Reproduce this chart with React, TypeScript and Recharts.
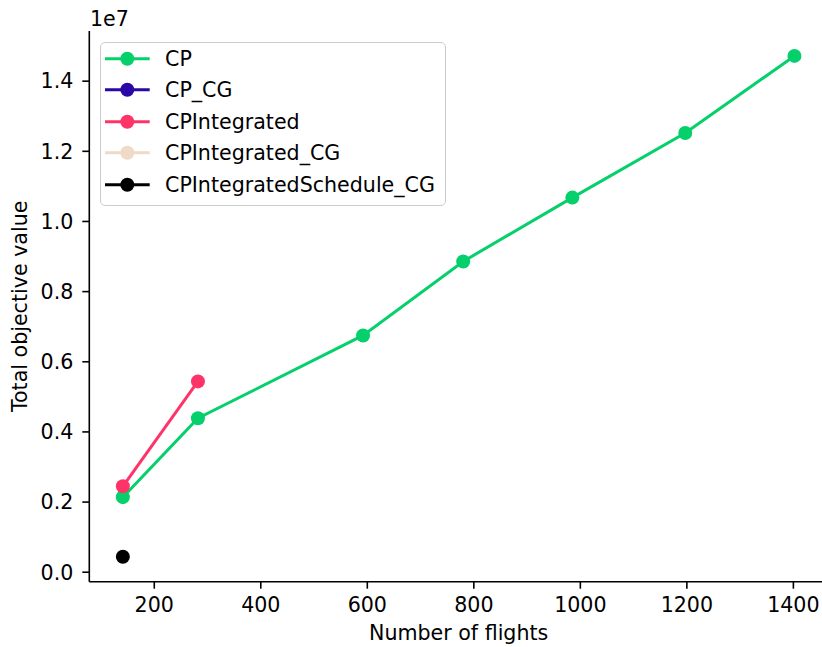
import React from 'react';
import { LineChart, Line, XAxis, YAxis, Legend } from 'recharts';

// number of flights per instance and total objective value per solver
const flightsCP = [141, 282, 592, 780, 985, 1197, 1402];
const objectiveCP = [2.14e6, 4.39e6, 6.75e6, 8.86e6, 10.68e6, 12.52e6, 14.72e6];

const flightsCPCG: number[] = [];
const objectiveCPCG: number[] = [];

const flightsCPIntegrated = [141, 282];
const objectiveCPIntegrated = [2.45e6, 5.44e6];

const flightsCPIntegratedCG: number[] = [];
const objectiveCPIntegratedCG: number[] = [];

const flightsSchedule = [141];
const objectiveSchedule = [0.44e6];

const xTicks = [200, 400, 600, 800, 1000, 1200, 1400];
const yTicks = [0, 2e6, 4e6, 6e6, 8e6, 10e6, 12e6, 14e6];

const zip = (xs: number[], ys: number[]) => xs.map((x, i) => ({ x, y: ys[i] }));

const series = [
  { name: 'CP', color: '#05d06c', data: zip(flightsCP, objectiveCP) },
  { name: 'CP_CG', color: '#2b07a6', data: zip(flightsCPCG, objectiveCPCG) },
  { name: 'CPIntegrated', color: '#fe3468', data: zip(flightsCPIntegrated, objectiveCPIntegrated) },
  { name: 'CPIntegrated_CG', color: '#f0d9c6', data: zip(flightsCPIntegratedCG, objectiveCPIntegratedCG) },
  { name: 'CPIntegratedSchedule_CG', color: '#000000', data: zip(flightsSchedule, objectiveSchedule) },
];

const FONT = '"DejaVu Sans", sans-serif';
const FS = 20.6;
const tickStyle = { fontSize: FS, fill: '#000', fontFamily: FONT };
const axisStroke = { stroke: '#000', strokeWidth: 1.6 };

const LegendBox = () => (
  <div
    style={{
      width: 346,
      height: 164,
      boxSizing: 'border-box',
      border: '1.6px solid #cccccc',
      borderRadius: 5,
      background: 'rgba(255,255,255,0.8)',
      paddingTop: 0.3,
      fontFamily: FONT,
      fontSize: FS,
      color: '#000',
    }}
  >
    {series.map(s => (
      <div key={s.name} style={{ position: 'relative', height: 31.4 }}>
        <svg width={50} height={31.4} style={{ position: 'absolute', left: 4.4, top: 0 }}>
          <line x1={0} x2={44.7} y1={15.7} y2={15.7} stroke={s.color} strokeWidth={3} />
          <circle cx={22.3} cy={15.7} r={7} fill={s.color} />
        </svg>
        <span style={{ position: 'absolute', left: 64, top: 1, lineHeight: '31.4px', whiteSpace: 'nowrap' }}>
          {s.name}
        </span>
      </div>
    ))}
  </div>
);

export default function App() {
  return (
    <div style={{ position: 'absolute', left: 0, top: 0, width: 822, height: 647, overflow: 'hidden', background: '#fff' }}>
      <LineChart width={840} height={647} margin={{ top: 31, right: 12, bottom: 0, left: 0 }}>
        <XAxis
          type="number"
          dataKey="x"
          domain={[78, 1465]}
          ticks={xTicks}
          allowDataOverflow
          height={65.3}
          tick={tickStyle}
          tickSize={7}
          tickMargin={9}
          axisLine={axisStroke}
          tickLine={axisStroke}
          label={{ value: 'Number of flights', position: 'insideBottom', offset: 7, style: { ...tickStyle, textAnchor: 'middle' } }}
        />
        <XAxis xAxisId="top" orientation="top" type="number" domain={[78, 1465]} height={0} tick={false} tickLine={false} axisLine={axisStroke} />
        <YAxis
          type="number"
          dataKey="y"
          domain={[-0.27e6, 15.43e6]}
          ticks={yTicks}
          allowDataOverflow
          width={89.3}
          tick={tickStyle}
          tickSize={7}
          tickMargin={9}
          tickFormatter={(v: number) => (v / 1e7).toFixed(1)}
          axisLine={axisStroke}
          tickLine={axisStroke}
          label={{ value: 'Total objective value', angle: -90, position: 'insideLeft', offset: 20, style: { ...tickStyle, textAnchor: 'middle' } }}
        />
        <YAxis yAxisId="right" orientation="right" type="number" domain={[-0.27e6, 15.43e6]} width={0} tick={false} tickLine={false} axisLine={axisStroke} />
        {series.map(s => (
          <Line
            key={s.name}
            name={s.name}
            data={s.data}
            dataKey="y"
            type="linear"
            stroke={s.color}
            strokeWidth={3}
            dot={{ r: 7, fill: s.color, stroke: 'none' }}
            activeDot={false}
            isAnimationActive={false}
          />
        ))}
        <Legend
          layout="horizontal"
          verticalAlign="middle"
          content={() => <LegendBox />}
          wrapperStyle={{ position: 'absolute', left: 100, top: 41.7, width: 346, height: 164 }}
        />
      </LineChart>
      <div style={{ position: 'absolute', left: 90, top: 8.5, fontFamily: FONT, fontSize: FS, lineHeight: '20px', color: '#000' }}>
        1e7
      </div>
    </div>
  );
}
